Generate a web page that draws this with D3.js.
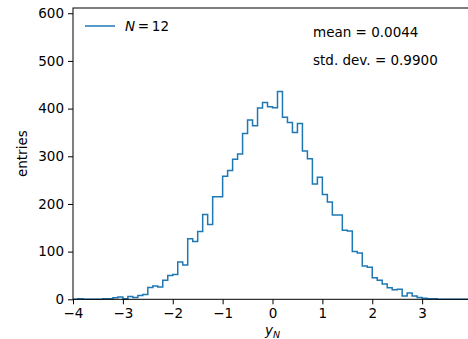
<!DOCTYPE html>
<html>
<head>
<meta charset="utf-8">
<script src="https://cdn.jsdelivr.net/npm/d3@7"></script>
<style>
  body { margin: 0; background: #fff; }
  text { font-family: "DejaVu Sans", sans-serif; fill: #000; }
</style>
</head>
<body>
<figure id="hist" style="margin:0"></figure>
<script>
// histogram of y_N, 80 bins of width 0.1 from -4 to 4
const binLow = -4;
const binWidth = 0.1;
const counts = [
  0, 1, 0, 0, 0, 0, 1, 1, 3, 5,
  1, 6, 4, 8, 10, 25, 28, 26, 40, 50,
  52, 78, 72, 127, 121, 142, 178, 157, 215, 215,
  258, 270, 294, 305, 348, 376, 364, 401, 413, 404,
  402, 436, 382, 371, 350, 369, 311, 295, 242, 256,
  220, 204, 177, 177, 145, 143, 100, 97, 70, 67,
  45, 40, 32, 24, 20, 21, 7, 13, 7, 4,
  2, 1, 1, 0, 0, 0, 0, 0, 0, 0
];
const xTicks = [-4, -3, -2, -1, 0, 1, 2, 3];
const yTicks = [0, 100, 200, 300, 400, 500, 600];
const statLines = ["mean = 0.0044", "std. dev. = 0.9900"];

const width = 468, height = 339;
const margin = { left: 73, top: 8, right: 472, bottom: 299.3 };

const svg = d3.select("figure#hist")
  .append("svg")
  .attr("width", width)
  .attr("height", height);

const x = d3.scaleLinear().domain([-4, 4]).range([margin.left, margin.right]);
const y = d3.scaleLinear().domain([0, 611]).range([margin.bottom, margin.top]);

// step outline
const pts = [[binLow, 0]];
counts.forEach((c, i) => pts.push([+(binLow + i * binWidth).toFixed(2), c]));
pts.push([+(binLow + counts.length * binWidth).toFixed(2), counts[counts.length - 1]]);
pts.push([+(binLow + counts.length * binWidth).toFixed(2), 0]);

const line = d3.line()
  .x(d => x(d[0]))
  .y(d => y(d[1]))
  .curve(d3.curveStepAfter);

svg.append("path")
  .datum(pts)
  .attr("d", line)
  .attr("fill", "none")
  .attr("stroke", "#1f77b4")
  .attr("stroke-width", 1.5)
  .attr("stroke-linejoin", "miter");

// axes
const xAxis = svg.append("g")
  .attr("transform", "translate(0," + margin.bottom + ")")
  .call(d3.axisBottom(x).tickValues(xTicks).tickSize(5).tickPadding(4)
    .tickFormat(d => d < 0 ? "\u2212" + Math.abs(d) : d));
const yAxis = svg.append("g")
  .attr("transform", "translate(" + margin.left + ",0)")
  .call(d3.axisLeft(y).tickValues(yTicks).tickSize(5).tickPadding(4));

[xAxis, yAxis].forEach(g => {
  g.selectAll("text").style("font-size", "13.5px").attr("fill", "#000");
  g.selectAll("line").attr("stroke", "#000").attr("stroke-width", 1);
  g.select(".domain").remove();
});

// spines
svg.append("rect")
  .attr("x", margin.left)
  .attr("y", margin.top)
  .attr("width", margin.right - margin.left)
  .attr("height", margin.bottom - margin.top)
  .attr("fill", "none")
  .attr("stroke", "#000")
  .attr("stroke-width", 1);

// axis labels
svg.append("text")
  .attr("transform", "translate(22," + ((margin.top + margin.bottom) / 2) + ") rotate(-90)")
  .attr("text-anchor", "middle")
  .attr("dominant-baseline", "central")
  .style("font-size", "13.5px")
  .text("entries");

const xl = svg.append("text")
  .attr("x", x(0))
  .attr("y", 335)
  .attr("text-anchor", "middle")
  .style("font-size", "13.5px");
xl.append("tspan").style("font-style", "italic").text("y");
xl.append("tspan").style("font-style", "italic").style("font-size", "9.5px").attr("dy", 3).text("N");

// legend
svg.append("line")
  .attr("x1", 85).attr("x2", 115)
  .attr("y1", 26).attr("y2", 26)
  .attr("stroke", "#1f77b4")
  .attr("stroke-width", 1.5);
const lt = svg.append("text")
  .attr("x", 125)
  .attr("y", 31)
  .style("font-size", "13.5px");
lt.append("tspan").style("font-style", "italic").text("N");
lt.append("tspan").text("\u2009=\u200912");

// stats
svg.selectAll(".stat")
  .data(statLines)
  .enter()
  .append("text")
  .attr("class", "stat")
  .attr("x", 313)
  .attr("y", (d, i) => 37 + i * 28)
  .style("font-size", "13.5px")
  .text(d => d);
</script>
</body>
</html>
